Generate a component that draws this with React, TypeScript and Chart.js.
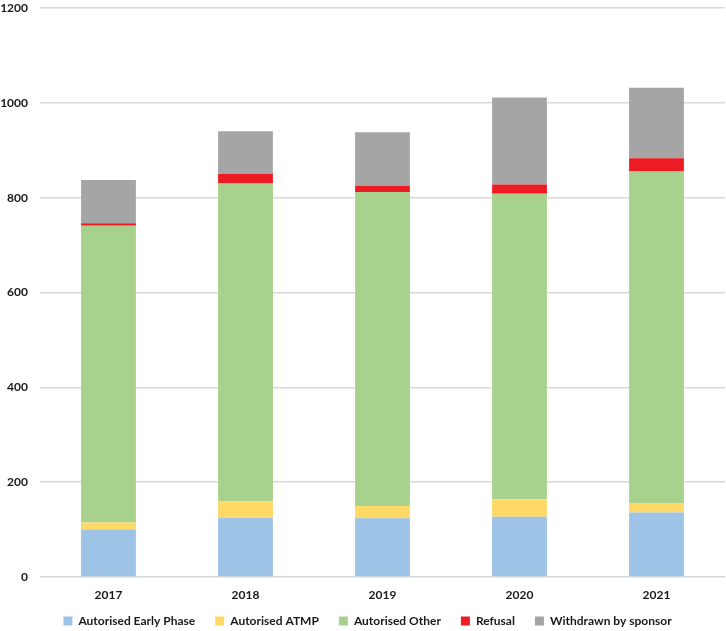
import React, { useEffect, useRef } from "react";
import { Chart, registerables } from "chart.js";

Chart.register(...registerables);

const years = ["2017", "2018", "2019", "2020", "2021"];
const earlyPhase = [100, 125, 124, 127, 136];
const atmp = [15, 35, 26, 37, 19];
const other = [626, 670, 662, 644, 700];
const refusal = [5, 20, 13, 20, 28];
const withdrawn = [91, 90, 113, 183, 149];

const FONT = "Lato";
const TEXT = "#1a1a1a";

const legendFix = {
  id: "legendFix",
  afterInit(chart: any) {
    const lg = chart.legend;
    if (!lg) return;
    const f = lg.fit.bind(lg);
    lg.fit = function () {
      f();
      this.height = 20;
    };
  },
  afterLayout(chart: any) {
    const lg = chart.legend;
    if (!lg) return;
    lg.top = chart.height - 36;
    lg.bottom = chart.height;
    lg.height = 36;
    lg.left += 5;
    lg.right += 5;
  },
};

export default function App() {
  const ref = useRef<HTMLCanvasElement>(null);
  useEffect(() => {
    document.body.style.margin = "0";
    const ctx = ref.current!;
    const chart = new Chart(ctx, {
      type: "bar",
      data: {
        labels: years,
        datasets: [
          { label: "Autorised Early Phase", data: earlyPhase, backgroundColor: "#9DC3E6" },
          { label: "Autorised ATMP", data: atmp, backgroundColor: "#FFD966" },
          { label: "Autorised Other", data: other, backgroundColor: "#A9D18E" },
          { label: "Refusal", data: refusal, backgroundColor: "#ED1C24" },
          { label: "Withdrawn by sponsor", data: withdrawn, backgroundColor: "#A5A5A5" },
        ],
      },
      plugins: [legendFix],
      options: {
        responsive: false,
        animation: false,
        datasets: { bar: { categoryPercentage: 1, barPercentage: 0.4 } },
        layout: { padding: { left: 0, right: 1, top: 0, bottom: 0 } },
        scales: {
          x: {
            stacked: true,
            grid: { display: false, drawTicks: false },
            border: { display: false },
            ticks: { color: TEXT, font: { family: FONT, size: 12, weight: "bold" }, padding: 11 },
            afterFit: (s: any) => { s.height = 34; },
          },
          y: {
            stacked: true,
            min: 0,
            max: 1200,
            grid: { color: "#D9D9D9", lineWidth: 1.5, drawTicks: false },
            border: { display: false },
            ticks: {
              stepSize: 200,
              color: TEXT,
              font: { family: FONT, size: 12, weight: "bold" },
              padding: 12,
              callback: (v: any) => String(v),
            },
            afterFit: (s: any) => {
              s.width = 40;
              s.paddingTop = 8;
              s.paddingBottom = 0;
            },
          },
        },
        plugins: {
          legend: {
            position: "bottom",
            labels: {
              boxWidth: 9,
              boxHeight: 9,
              padding: 20,
              color: TEXT,
              font: { family: FONT, size: 12, weight: "bold" },
            },
          },
          tooltip: { enabled: false },
        },
      },
    });
    return () => chart.destroy();
  }, []);
  return (
    <div style={{ position: "absolute", left: 0, top: 0, width: 726, height: 631 }}>
      <canvas ref={ref} width={726} height={631} />
    </div>
  );
}
